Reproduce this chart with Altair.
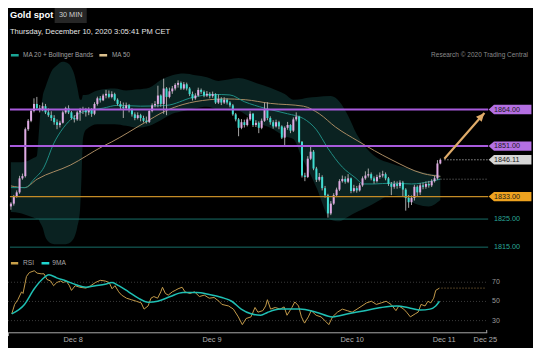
import math
import altair as alt
import pandas as pd

# ---------------- values ----------------
TITLE = "Gold spot"
PERIOD = "30 MIN"
STAMP = "Thursday, December 10, 2020 3:05:41 PM CET"
LEG_MAIN = ["MA 20 + Bollinger Bands", "MA 50"]
CREDIT = "Research \u00a9 2020 Trading Central"
LEG_RSI = ["RSI", "9MA"]

open_first = 1829.5
close = [1830.5, 1833.0, 1834.5, 1839.5, 1840.3, 1857.0, 1860.0, 1863.5, 1866.0, 1864.5,
         1864.0, 1865.2, 1863.0, 1862.0, 1861.0, 1859.5, 1858.5, 1859.3, 1863.0, 1864.5,
         1863.0, 1861.0, 1860.5, 1863.0, 1863.8, 1864.0, 1863.0, 1864.0, 1862.5, 1866.0,
         1868.0, 1867.3, 1869.0, 1869.6, 1868.5, 1869.5, 1867.5, 1866.0, 1865.0, 1864.5,
         1865.5, 1864.0, 1862.3, 1861.0, 1862.0, 1861.0, 1860.0, 1859.6, 1863.5, 1865.5,
         1866.0, 1869.0, 1866.0, 1871.5, 1868.5, 1870.5, 1871.5, 1872.8, 1873.5, 1871.5,
         1873.0, 1871.5, 1869.5, 1868.0, 1869.0, 1871.0, 1870.3, 1869.0, 1869.6, 1868.8,
         1869.5, 1866.5, 1867.8, 1866.5, 1867.5, 1866.5, 1865.5, 1862.3, 1860.5, 1857.5,
         1859.5, 1858.5, 1860.5, 1862.5, 1858.5, 1859.3, 1857.5, 1860.0, 1864.0, 1861.0,
         1859.5, 1858.0, 1859.5, 1858.0, 1854.0, 1857.5, 1858.5, 1856.5, 1860.5, 1861.5,
         1852.5, 1840.5, 1840.0, 1846.5, 1849.0, 1843.0, 1839.0, 1840.0, 1836.0, 1833.5,
         1827.0, 1830.5, 1833.5, 1835.5, 1838.5, 1839.3, 1838.3, 1839.5, 1835.0, 1836.0,
         1835.2, 1837.0, 1839.5, 1840.5, 1841.0, 1839.5, 1838.5, 1840.0, 1840.5, 1841.0,
         1839.5, 1837.5, 1836.5, 1837.5, 1836.8, 1838.0, 1835.5, 1832.5, 1831.0, 1832.5,
         1836.5, 1834.5, 1837.0, 1836.5, 1837.5, 1837.0, 1838.5, 1839.5, 1844.8, 1846.11]
high = [1831.0, 1833.6, 1835.2, 1840.4, 1841.2, 1857.6, 1860.6, 1864.2, 1868.0, 1868.5,
        1865.6, 1866.5, 1866.0, 1864.4, 1863.4, 1862.0, 1860.5, 1860.0, 1863.6, 1865.0,
        1865.5, 1863.5, 1862.0, 1863.6, 1864.6, 1865.0, 1864.6, 1864.8, 1864.5, 1866.6,
        1868.6, 1868.8, 1869.6, 1871.0, 1870.8, 1870.5, 1870.0, 1868.0, 1867.0, 1866.5,
        1866.5, 1866.0, 1864.5, 1863.0, 1863.0, 1862.5, 1861.8, 1861.5, 1864.0, 1866.2,
        1867.0, 1872.5, 1869.4, 1875.0, 1872.0, 1871.8, 1872.4, 1873.4, 1874.4, 1874.0,
        1873.8, 1873.6, 1872.0, 1870.4, 1869.8, 1871.8, 1871.5, 1870.8, 1870.6, 1870.2,
        1870.4, 1869.8, 1869.4, 1868.4, 1868.4, 1868.0, 1867.0, 1866.0, 1862.8, 1861.0,
        1860.6, 1860.4, 1861.2, 1863.4, 1862.8, 1860.2, 1859.8, 1860.8, 1866.5, 1866.6,
        1861.6, 1860.2, 1860.4, 1860.0, 1858.4, 1858.0, 1859.6, 1858.8, 1861.2, 1863.0,
        1861.8, 1852.8, 1841.5, 1847.4, 1851.0, 1849.6, 1843.6, 1841.4, 1840.6, 1836.8,
        1834.0, 1831.4, 1834.2, 1836.2, 1839.2, 1840.5, 1840.2, 1841.0, 1839.8, 1837.2,
        1836.8, 1837.8, 1840.2, 1842.0, 1843.0, 1841.6, 1840.2, 1840.8, 1841.6, 1842.2,
        1841.6, 1840.0, 1838.2, 1838.6, 1838.4, 1838.8, 1838.6, 1836.0, 1833.6, 1833.4,
        1837.2, 1837.0, 1837.8, 1838.0, 1838.4, 1838.6, 1839.2, 1840.4, 1846.0, 1846.6]
low = [1828.3, 1829.8, 1832.6, 1834.0, 1839.0, 1839.8, 1856.4, 1859.5, 1863.0, 1864.0,
       1863.0, 1863.4, 1862.4, 1861.4, 1860.0, 1858.6, 1857.0, 1857.6, 1859.0, 1862.5,
       1862.4, 1860.4, 1859.4, 1860.0, 1860.0, 1862.4, 1861.5, 1862.0, 1861.4, 1862.0,
       1865.4, 1866.5, 1867.0, 1868.0, 1868.0, 1868.0, 1867.0, 1865.4, 1864.0, 1861.0,
       1863.8, 1863.0, 1861.5, 1860.2, 1860.5, 1859.8, 1859.4, 1859.0, 1859.2, 1863.0,
       1864.8, 1864.8, 1865.0, 1862.5, 1862.0, 1868.0, 1869.6, 1870.8, 1871.8, 1871.0,
       1871.0, 1870.8, 1868.8, 1867.2, 1867.5, 1868.6, 1869.6, 1868.4, 1868.5, 1868.0,
       1868.2, 1866.0, 1866.0, 1865.6, 1866.0, 1865.8, 1864.8, 1861.8, 1859.8, 1854.5,
       1857.0, 1857.6, 1858.0, 1860.0, 1857.8, 1857.8, 1855.6, 1857.0, 1859.6, 1860.2,
       1858.6, 1857.2, 1857.6, 1857.0, 1853.5, 1851.0, 1856.8, 1855.6, 1856.0, 1859.8,
       1852.0, 1839.8, 1838.5, 1839.6, 1846.0, 1842.4, 1838.2, 1838.4, 1835.2, 1832.6,
       1825.5, 1826.4, 1830.0, 1832.8, 1835.0, 1838.0, 1837.6, 1837.8, 1834.2, 1834.5,
       1834.4, 1834.8, 1836.5, 1839.0, 1839.8, 1838.8, 1837.6, 1838.0, 1839.4, 1839.8,
       1838.8, 1836.8, 1833.5, 1835.8, 1835.8, 1836.0, 1833.0, 1828.0, 1829.0, 1830.0,
       1831.6, 1833.0, 1833.6, 1835.6, 1835.8, 1836.2, 1836.4, 1838.0, 1839.0, 1844.5]

band_idx = [0, 3, 6, 8, 9, 9.5, 10, 11, 12, 13, 14, 16, 18, 20, 21, 22, 23, 24, 24.5, 25, 26,
            30, 36, 40, 44, 48, 52, 56, 60, 64, 68, 72, 79, 85, 90, 95, 98, 101, 103, 106, 111,
            114, 117, 120, 124, 127, 132, 136, 141, 145, 149]
band_up = [1845.2, 1845.2, 1845.8, 1846.8, 1847.5, 1853.0, 1860.0, 1868.5, 1872.0, 1875.0,
           1877.5, 1879.8, 1881.0, 1880.3, 1879.0, 1876.5, 1872.0, 1867.5, 1867.5, 1869.2,
           1869.2, 1870.8, 1871.5, 1870.8, 1871.2, 1871.8, 1874.5, 1876.2, 1876.8, 1876.2,
           1875.5, 1874.2, 1875.2, 1873.5, 1871.8, 1869.5, 1867.5, 1867.8, 1868.2, 1868.5,
           1868.8, 1866.8, 1861.8, 1855.2, 1849.5, 1846.8, 1844.8, 1843.5, 1842.2, 1841.2,
           1840.8]
band_lo = [1827.5, 1827.2, 1826.2, 1825.5, 1825.0, 1825.0, 1824.0, 1822.0, 1818.5, 1817.0,
           1816.3, 1816.0, 1816.0, 1816.3, 1817.0, 1818.5, 1822.0, 1828.5, 1840.0, 1853.5,
           1856.8, 1858.8, 1858.8, 1858.2, 1857.5, 1858.2, 1860.2, 1862.5, 1863.5, 1864.5,
           1865.0, 1864.0, 1863.5, 1859.5, 1857.5, 1854.5, 1853.5, 1846.8, 1842.8, 1836.2,
           1824.8, 1824.2, 1825.8, 1827.5, 1829.5, 1831.2, 1833.5, 1832.8, 1830.2, 1829.5,
           1831.8]

ma20_idx = [0, 5, 8, 11.5, 14.8, 18.2, 21.6, 25, 32, 37, 45, 54, 63, 70, 76, 81, 88, 96,
            101.5, 106, 110, 115, 119.4, 122.4, 126, 132, 139, 146, 149]
ma20_val = [1836.2, 1836.2, 1839.2, 1843.5, 1851.8, 1857.5, 1861.2, 1863.2, 1864.5, 1865.5,
            1865.2, 1865.5, 1868.3, 1869.4, 1869.2, 1866.8, 1864.5, 1862.5, 1860.8, 1856.8,
            1850.2, 1843.5, 1839.8, 1837.5, 1837.5, 1837.8, 1837.5, 1838.5, 1839.2]
ma50_idx = [0, 4.7, 9.1, 20.6, 31.7, 35, 46.2, 53.6, 59.7, 68.8, 73.9, 81.3, 90, 101.5, 107,
            112.6, 120.4, 131.9, 143, 149]
ma50_val = [1836.8, 1836.2, 1839.2, 1844.2, 1850.8, 1852.5, 1859.2, 1863.5, 1865.8, 1867.5,
            1867.8, 1867.5, 1866.2, 1865.2, 1862.5, 1857.8, 1852.8, 1846.2, 1841.2, 1840.2]

rsi_idx = [0.3, 1.3, 2.4, 3.7, 4.2, 5.4, 6.4, 8.1, 9.1, 10.5, 11.5, 12.5, 13.8, 14.8, 15.9,
           17.2, 18.2, 19.2, 20.3, 21.0, 22.3, 23.9, 26.0, 27.7, 29.3, 31.0, 32.7, 34.1, 35.1,
           36.1, 37.4, 38.4, 40.1, 41.8, 43.5, 45.2, 46.2, 47.6, 48.6, 49.6, 50.9, 52.0, 52.6,
           53.6, 54.6, 56.0, 57.0, 58.0, 59.4, 60.4, 62.1, 63.7, 65.4, 67.1, 68.8, 70.5, 72.2,
           73.2, 75.5, 77.2, 78.9, 80.3, 81.6, 83.3, 84.7, 85.7, 87.4, 88.4, 89.0, 90.1, 91.7,
           93.4, 94.8, 95.8, 97.5, 98.5, 99.8, 100.8, 101.9, 103.2, 104.2, 105.9, 107.6, 109.3,
           110.3, 111.6, 113.3, 115.0, 116.7, 118.4, 120.1, 121.8, 123.4, 125.1, 126.8, 128.5,
           130.2, 131.9, 133.6, 134.6, 136.3, 137.3, 138.6, 140.3, 141.3, 142.3, 143.7, 144.7,
           145.7, 146.7, 147.4, 148.7]
rsi_val = [37.1, 46.9, 51.8, 60.0, 58.3, 76.1, 80.1, 82.0, 79.5, 78.8, 78.8, 72.9, 71.3, 66.4,
           69.7, 71.3, 69.7, 71.3, 66.4, 61.5, 66.4, 64.8, 63.9, 66.4, 69.7, 72.0, 71.3, 69.7,
           63.2, 66.4, 60.0, 56.6, 53.4, 51.8, 50.2, 48.5, 42.0, 45.3, 53.4, 55.1, 53.4, 60.0,
           64.8, 58.3, 56.6, 60.0, 61.5, 63.2, 64.8, 60.0, 58.3, 60.0, 55.1, 56.6, 53.4, 54.1,
           50.2, 46.9, 45.3, 42.0, 33.9, 25.8, 32.2, 33.9, 43.7, 38.8, 40.4, 45.3, 51.8, 42.0,
           43.7, 42.0, 44.3, 35.6, 43.7, 49.5, 45.3, 33.9, 27.4, 33.9, 40.4, 35.6, 33.9, 29.0,
           25.8, 33.9, 38.8, 42.0, 40.4, 38.8, 42.0, 45.3, 48.5, 50.2, 46.9, 48.5, 50.2, 46.9,
           40.4, 45.3, 42.0, 38.8, 33.9, 37.1, 38.8, 46.9, 45.3, 50.2, 48.5, 53.4, 61.5, 63.9]
rsi9_idx = [0.3, 4.7, 8.1, 10.8, 13.2, 15.9, 19.2, 22.6, 26.0, 29.3, 32.7, 35.1, 37.4, 40.8,
            44.2, 47.6, 50.9, 55.3, 59.7, 64.4, 68.8, 73.2, 76.6, 79.9, 83.3, 86.7, 89.0, 93.4,
            100.2, 105.9, 111.6, 117.0, 122.8, 128.5, 133.9, 138.6, 142.0, 145.4, 147.4, 148.7]
rsi9_val = [37.1, 46.9, 63.2, 72.9, 77.8, 74.6, 71.3, 67.4, 64.8, 66.4, 68.0, 69.7, 66.4, 60.0,
            53.4, 49.2, 50.2, 55.1, 59.3, 59.3, 57.3, 54.1, 50.2, 42.0, 37.1, 35.6, 38.5, 42.0,
            42.0, 38.8, 33.9, 37.1, 40.4, 43.7, 45.3, 43.0, 41.0, 42.0, 45.3, 50.2]

resist = [1864.00, 1851.00]
pivot = [1833.00]
support = [1825.00, 1815.00]
last_price = 1846.11
ma20_last = 1839.2
rsi_last = 63.9
rsi_levels = [70, 50, 30]
date_pos = [21.6, 69.8, 118.4, 150.3, 164.6]
date_lab = ["Dec 8", "Dec 9", "Dec 10", "Dec 11", "Dec 25"]
arrow_idx = [150.4, 164.3]
arrow_val = [1846.5, 1862.8]

# ---------------- layout (reference px -> chart px) ----------------
W, H = 525, 340
SX, SY = 0.972, 0.936


def px(X):
    return round((X - 3.0) * SX, 2)


def py(Y):
    return round(Y * SY, 2)


BAR0_X, BAR_DX = 6.0, 2.965
PRICE_REF, PRICE_Y, PX_PER_USD = 1864.0, 108.5, 3.0
RSI_REF, RSI_Y, PX_PER_PT = 50.0, 313.5, 1.025


def bar_at(X):
    return (X - BAR0_X) / BAR_DX


def price_at(Y):
    return PRICE_REF - (Y - PRICE_Y) / PX_PER_USD


def rsi_at(Y):
    return RSI_REF - (Y - RSI_Y) / PX_PER_PT


XS = alt.Scale(domain=[bar_at(3.0), bar_at(3.0 + W / SX)], nice=False, zero=False)
PS = alt.Scale(domain=[price_at(H / SY), price_at(0.0)], nice=False, zero=False)
RS = alt.Scale(domain=[rsi_at(H / SY), rsi_at(0.0)], nice=False, zero=False)


def X(f):
    return alt.X(f, type="quantitative", scale=XS, axis=None)


def YP(f):
    return alt.Y(f, type="quantitative", scale=PS, axis=None)


def YR(f):
    return alt.Y(f, type="quantitative", scale=RS, axis=None)


FONT = "Liberation Sans"
PINK, CYAN, WICK = "#dfaae3", "#3fdcd0", "#a6a6a6"
BAND, MA20C, MA50C = "#0a2221", "#1f8c83", "#a88a62"
PURPLE_L, PURPLE_B = "#a85bdc", "#b46fe2"
ORANGE_L, ORANGE_B = "#c48b26", "#eea21f"
TEAL_L, TEAL_T = "#176e67", "#2aa898"
ARROW = "#e0ac6a"
RSIC, RSI9C = "#c29a4a", "#1fc0b4"


def one(**kw):
    return pd.DataFrame({k: [v] for k, v in kw.items()})


def text_at(txt, Xr, Yr, size, color, align="left", weight="normal"):
    return alt.Chart(one(t=txt)).mark_text(
        align=align, baseline="middle", font=FONT, fontSize=size,
        fontWeight=weight, color=color
    ).encode(x=alt.value(px(Xr)), y=alt.value(py(Yr)), text="t:N")


def hseg(X1, X2, Yr, color, width):
    return alt.Chart(one(k=0)).mark_rule(color=color, strokeWidth=width).encode(
        x=alt.value(px(X1)), x2=alt.value(px(X2)), y=alt.value(py(Yr)))


layers = []

# Bollinger band and moving averages
band = pd.DataFrame({"i": band_idx, "u": band_up, "lo": band_lo})
layers.append(alt.Chart(band).mark_area(color=BAND, interpolate="monotone").encode(
    x=X("i"), y=YP("u"), y2="lo"))
ma50 = pd.DataFrame({"i": ma50_idx, "v": ma50_val})
layers.append(alt.Chart(ma50).mark_line(color=MA50C, strokeWidth=1, interpolate="monotone").encode(
    x=X("i"), y=YP("v")))
ma20 = pd.DataFrame({"i": ma20_idx, "v": ma20_val})
layers.append(alt.Chart(ma20).mark_line(color=MA20C, strokeWidth=1, interpolate="monotone").encode(
    x=X("i"), y=YP("v")))

# candles
opens = [open_first] + close[:-1]
candles = pd.DataFrame({"i": list(range(len(close))), "o": opens, "c": close, "h": high, "l": low})
candles["dir"] = ["up" if c >= o else "down" for o, c in zip(opens, close)]
layers.append(alt.Chart(candles).mark_rule(color=WICK, strokeWidth=1).encode(
    x=X("i"), y=YP("l"), y2="h"))
layers.append(alt.Chart(candles).mark_rule(strokeWidth=2).encode(
    x=X("i"), y=YP("o"), y2="c",
    color=alt.Color("dir:N", scale=alt.Scale(domain=["up", "down"], range=[PINK, CYAN]), legend=None)))

# level lines
LX1, LX2 = 5, 497


def level_rules(vals, color, width):
    d = pd.DataFrame({"v": vals})
    return alt.Chart(d).mark_rule(color=color, strokeWidth=width).encode(
        x=alt.value(px(LX1)), x2=alt.value(px(LX2)), y=YP("v"))


layers.append(level_rules(support, TEAL_L, 1))
layers.append(level_rules(pivot, ORANGE_L, 1.4))
layers.append(level_rules(resist, PURPLE_L, 2))

# dotted guides to the last values
layers.append(alt.Chart(pd.DataFrame({"v": [ma20_last]})).mark_rule(
    color="#7a7a7a", strokeWidth=1, strokeDash=[1, 2]).encode(
    x=alt.value(px(448)), x2=alt.value(px(LX2)), y=YP("v")))
layers.append(alt.Chart(pd.DataFrame({"v": [last_price]})).mark_rule(
    color="#d8d8d8", strokeWidth=1, strokeDash=[1, 2]).encode(
    x=alt.value(px(452)), x2=alt.value(px(LX2)), y=YP("v")))

# target arrow
arrow = pd.DataFrame({"i": arrow_idx, "p": arrow_val})
layers.append(alt.Chart(arrow).mark_line(color=ARROW, strokeWidth=2.2).encode(
    x=X("i"), y=YP("p"), order="i"))


def sx_of(i):
    return (BAR0_X + BAR_DX * i - 3.0) * SX


def sy_of(p):
    return (PRICE_Y + (PRICE_REF - p) * PX_PER_USD) * SY


ang = math.degrees(math.atan2(sx_of(arrow_idx[1]) - sx_of(arrow_idx[0]),
                              sy_of(arrow_val[0]) - sy_of(arrow_val[1])))
HEAD = "M 0 0 L -0.75 1.7 L 0.75 1.7 Z"
layers.append(alt.Chart(pd.DataFrame({"i": [arrow_idx[1]], "p": [arrow_val[1]]})).mark_point(
    shape=HEAD, size=100, filled=True, opacity=1, color=ARROW, strokeWidth=0, angle=round(ang, 1)
).encode(x=X("i"), y=YP("p")))

# price tags on the right
BOX_CX = 519.5
BOX_W = 44.0 * SX
r = BOX_W / 2
hh = (10.0 * SY / 2) / r
tip = 5.5 * SX / r
TAG = f"M -1 0 L {-1 + tip:.3f} {-hh:.3f} L 1 {-hh:.3f} L 1 {hh:.3f} L {-1 + tip:.3f} {hh:.3f} Z"
TAG_SIZE = (2 * r) ** 2


def tags(vals, fill, txtcol, boxed=True):
    d = pd.DataFrame({"v": vals, "lab": [f"{v:.2f}" for v in vals]})
    out = []
    if boxed:
        out.append(alt.Chart(d).mark_point(shape=TAG, size=TAG_SIZE, filled=True, opacity=1,
                                           color=fill, strokeWidth=0).encode(
            x=alt.value(px(BOX_CX)), y=YP("v")))
    out.append(alt.Chart(d).mark_text(align="left", baseline="middle", font=FONT, fontSize=7.2,
                                      color=txtcol).encode(
        x=alt.value(px(503)), y=YP("v"), text="lab:N"))
    return out


layers += tags(resist, PURPLE_B, "#1a1a1a")
layers += tags([last_price], "#d6d6d6", "#1a1a1a")
layers += tags(pivot, ORANGE_B, "#1a1a1a")
layers += tags(support, None, TEAL_T, boxed=False)

# ---------------- RSI panel ----------------
rl = pd.DataFrame({"v": rsi_levels, "lab": [str(v) for v in rsi_levels]})
layers.append(alt.Chart(rl).mark_rule(color="#3a3a3a", strokeWidth=1, strokeDash=[1, 2]).encode(
    x=alt.value(px(3)), x2=alt.value(px(495)), y=YR("v")))
layers.append(alt.Chart(rl).mark_text(align="left", baseline="middle", font=FONT, fontSize=7,
                                      color="#9a9a9a").encode(
    x=alt.value(px(501)), y=YR("v"), text="lab:N"))
layers.append(alt.Chart(pd.DataFrame({"v": [rsi_last]})).mark_rule(
    color="#9a7a44", strokeWidth=1, strokeDash=[1, 2]).encode(
    x=alt.value(px(449)), x2=alt.value(px(495)), y=YR("v")))
rsi = pd.DataFrame({"i": rsi_idx, "v": rsi_val})
layers.append(alt.Chart(rsi).mark_line(color=RSIC, strokeWidth=1).encode(x=X("i"), y=YR("v")))
rsi9 = pd.DataFrame({"i": rsi9_idx, "v": rsi9_val})
layers.append(alt.Chart(rsi9).mark_line(color=RSI9C, strokeWidth=1.5, interpolate="monotone").encode(
    x=X("i"), y=YR("v")))

# time axis
layers.append(hseg(3, 496, 347, "#a8a8a8", 1))
layers.append(alt.Chart(one(k=0)).mark_rule(color="#a8a8a8", strokeWidth=1).encode(
    x=alt.value(px(3.5)), y=alt.value(py(347)), y2=alt.value(py(350.5))))
layers.append(alt.Chart(one(k=0)).mark_rule(color="#a8a8a8", strokeWidth=1).encode(
    x=alt.value(px(495.5)), y=alt.value(py(344)), y2=alt.value(py(347))))
dates = pd.DataFrame({"i": date_pos, "lab": date_lab})
layers.append(alt.Chart(dates).mark_text(align="center", baseline="middle", font=FONT, fontSize=7.4,
                                         color="#b0b0b0").encode(
    x=X("i"), y=alt.value(py(355)), text="lab:N"))

# ---------------- header & legends ----------------
layers.append(alt.Chart(one(k=0)).mark_rect(color="#262626").encode(
    x=alt.value(px(51)), x2=alt.value(px(84)), y=alt.value(py(0)), y2=alt.value(py(16))))
layers.append(text_at(TITLE, 5, 7.5, 9.3, "#ffffff", weight="bold"))
layers.append(text_at(PERIOD, 67.5, 7.5, 7.3, "#cfcfcf", align="center"))
layers.append(text_at(STAMP, 5, 25.5, 7.6, "#e6e6e6"))

layers.append(hseg(6, 14, 50.5, "#1aa596", 2.5))
layers.append(text_at(LEG_MAIN[0], 18.5, 50.7, 6.4, "#a0a0a0"))
layers.append(hseg(97, 105, 50.5, "#dcc18e", 2.5))
layers.append(text_at(LEG_MAIN[1], 110, 50.7, 6.4, "#a0a0a0"))
layers.append(text_at(CREDIT, 538, 50.7, 6.5, "#8a8a8a", align="right"))

layers.append(hseg(6, 13.5, 272.7, "#c9a14a", 2.5))
layers.append(text_at(LEG_RSI[0], 18.5, 272.9, 6.6, "#a8a8a8"))
layers.append(hseg(37.5, 45.5, 272.7, "#1fd6d0", 2.5))
layers.append(text_at(LEG_RSI[1], 48.5, 272.9, 6.6, "#a8a8a8"))

chart = alt.layer(*layers).resolve_scale(y="independent").properties(
    width=W, height=H, background="#000000", padding=0,
    autosize=alt.AutoSizeParams(type="none")
).configure_view(strokeWidth=0)

chart.save("out.html", embed_options={"renderer": "svg", "actions": False})
